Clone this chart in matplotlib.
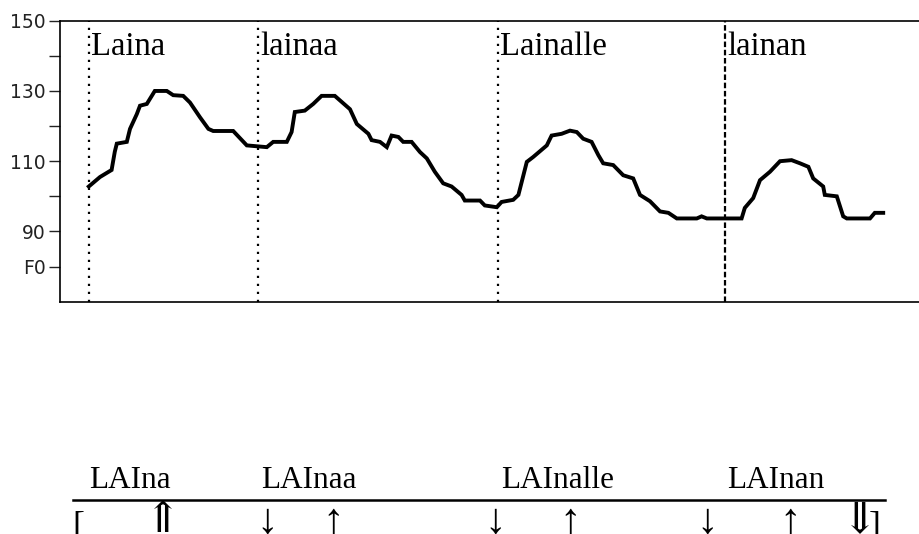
import numpy as np
import matplotlib.pyplot as plt

# F0 contour (time in ms, F0 in Hz)
t_ms = [72, 100, 129, 137, 142, 167, 175, 192, 200, 217, 237, 267, 283, 308, 325,
        350, 371, 383, 433, 467, 517, 533, 567, 579, 587, 612, 633, 654, 687, 725,
        742, 771, 779, 800, 817, 829, 846, 858, 879, 900, 917, 937, 958, 979, 1004,
        1012, 1050, 1062, 1092, 1104, 1133, 1146, 1167, 1183, 1217, 1229, 1254, 1275,
        1292, 1308, 1329, 1346, 1358, 1383, 1408, 1433, 1450, 1475, 1500, 1521, 1542,
        1592, 1604, 1617, 1704, 1712, 1733, 1750, 1775, 1800, 1829, 1850, 1871, 1883,
        1908, 1912, 1942, 1958, 1967, 2025, 2037, 2058]
f0_hz = [102.8, 105.5, 107.5, 112.7, 115.0, 115.5, 119.2, 123.4, 125.8, 126.3, 130.0,
         130.0, 128.8, 128.6, 126.7, 122.5, 119.2, 118.6, 118.6, 114.5, 114.0, 115.5,
         115.5, 118.3, 124.0, 124.4, 126.3, 128.6, 128.6, 124.8, 120.6, 117.8, 116.0,
         115.5, 114.0, 117.3, 116.9, 115.5, 115.5, 112.6, 110.8, 107.0, 103.7, 102.8,
         100.4, 98.8, 98.8, 97.4, 96.9, 98.4, 99.0, 100.4, 109.8, 111.2, 114.5, 117.3,
         117.8, 118.7, 118.3, 116.4, 115.5, 111.7, 109.4, 108.9, 106.0, 105.1, 100.4,
         98.6, 95.7, 95.3, 93.7, 93.7, 94.3, 93.7, 93.7, 96.7, 99.5, 104.6, 107.0,
         110.0, 110.3, 109.4, 108.4, 105.1, 102.8, 100.4, 100.0, 94.3, 93.7, 93.7,
         95.3, 95.3]

# word boundaries and labels
word_start = [72, 495, 1095, 1662]
words = ["Laina", "lainaa", "Lainalle", "lainan"]

# transcription row below
syll_x = [175, 622, 1245, 1790]
syll = ["LAIna", "LAInaa", "LAInalle", "LAInan"]
mark_x = [257, 517, 682, 1087, 1275, 1617, 1825, 2000]
marks = ["\u21d1", "\u2193", "\u2191", "\u2193", "\u2191", "\u2193", "\u2191", "\u21d3"]

serif = ["Liberation Serif", "DejaVu Serif"]

fig = plt.figure(figsize=(9.19, 5.34), dpi=100)
ax = fig.add_axes([60/919, 1 - 301.7/534, 1 - 60/919, (301.7 - 20.7)/534])

ax.plot(t_ms, f0_hz, color="black", lw=2.8, solid_joinstyle="miter")

for i, (x, w) in enumerate(zip(word_start, words)):
    ls = (0, (2.5, 1.2)) if i == 3 else (0, (1, 2.6))
    ax.axvline(x, color="black", lw=1.6, ls=ls)
    ax.text(x + 6, 140.3, w, family=serif, fontsize=23.5, va="baseline", ha="left")

ax.set_xlim(0, 2147.5)
ax.set_ylim(70, 150)
ax.set_yticks([150, 140, 130, 120, 110, 100, 90, 80])
ax.set_yticklabels(["150", "", "130", "", "110", "", "90", "F0"])
ax.set_xticks([])
ax.tick_params(axis="y", direction="out", length=8, width=1, labelsize=13.5,
               colors="#222222", pad=2)
ax.spines["right"].set_visible(False)
for s in ["top", "left", "bottom"]:
    ax.spines[s].set_linewidth(1.2)

# lower transcription panel, same time scale
ax2 = fig.add_axes([60/919, 0, 1 - 60/919, 94/534])
ax2.set_xlim(0, 2147.5)
ax2.set_ylim(534, 440)
ax2.axis("off")
ax2.plot([32, 2062], [500, 500], color="black", lw=1.8)
for x, s in zip(syll_x, syll):
    ax2.text(x, 488, s, family=serif, fontsize=22.5, ha="center", va="baseline")
for x, m in zip(mark_x, marks):
    ax2.text(x, 503, m, family=serif, fontsize=31, ha="center", va="top")
ax2.text(45, 511, "[", family=serif, fontsize=26, ha="center", va="top")
ax2.text(2037, 511, "]", family=serif, fontsize=26, ha="center", va="top")

fig.savefig("out.png", dpi=100)
